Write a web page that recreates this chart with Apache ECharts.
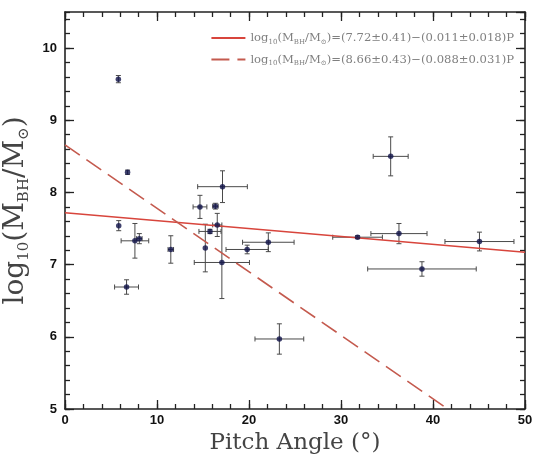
<!DOCTYPE html>
<html>
<head>
<meta charset="utf-8">
<script src="https://cdn.jsdelivr.net/npm/echarts@6/dist/echarts.min.js"></script>
<style>
html,body{margin:0;padding:0;background:#fff;}
#main{width:534px;height:457px;}
</style>
</head>
<body>
<div id="main"></div>
<script>
// pitch angle (deg), log10 black hole mass, and their errors
var pitch  = [5.8, 6.8, 5.84, 6.69, 7.6, 8.08, 11.5, 14.67, 16.35, 17.12, 16.55, 15.76, 15.25, 17.05, 19.8, 22.1, 23.3, 31.8, 35.4, 36.3, 38.8, 45.05];
var logM   = [9.57, 8.28, 7.54, 6.69, 7.33, 7.36, 7.21, 7.80, 7.81, 8.08, 7.55, 7.46, 7.23, 7.03, 7.21, 7.31, 5.97, 7.38, 8.50, 7.43, 6.94, 7.32];
var pitchErr = [0, 0, 0, 1.3, 1.5, 0.3, 0.3, 0.75, 0.3, 2.7, 0.5, 1.2, 0, 3.0, 2.3, 2.8, 2.65, 2.7, 1.9, 3.05, 5.9, 3.75];
var logMErr  = [0.05, 0.03, 0.07, 0.1, 0.24, 0.07, 0.19, 0.16, 0.04, 0.22, 0.16, 0.03, 0.33, 0.5, 0.06, 0.13, 0.21, 0.02, 0.27, 0.14, 0.1, 0.13];

// fit lines, end points
var fitAll  = [[0, 7.72], [50, 7.17]];
var fitDash = [[0, 8.66], [41.6, 5.0]];
var fitNames = ['fitA', 'fitB'];
var fitLabels = {
    fitA: '{t|log}{s|10}{t|(M}{s|BH}{t|/M}{s|⊙}{t|)=(7.72±0.41)−(0.011±0.018)P}',
    fitB: '{t|log}{s|10}{t|(M}{s|BH}{t|/M}{s|⊙}{t|)=(8.66±0.43)−(0.088±0.031)P}'
};

var xTicks = {min: 0, max: 50, interval: 10, minor: 2};
var yTicks = {min: 5, max: 10.5, interval: 1, minor: 0.2};

var pts = [];
for (var i = 0; i < pitch.length; i++) {
    pts.push([pitch[i], logM[i], pitchErr[i], logMErr[i]]);
}

function errBars(params, api) {
    var x = api.value(0), y = api.value(1), ex = api.value(2), ey = api.value(3);
    var cap = 2.5, kids = [];
    var st = {stroke: '#4a4a4a', lineWidth: 1};
    if (ey > 0) {
        var a = api.coord([x, y - ey]), b = api.coord([x, y + ey]);
        kids.push({type: 'line', shape: {x1: a[0], y1: a[1], x2: b[0], y2: b[1]}, style: st});
        kids.push({type: 'line', shape: {x1: a[0] - cap, y1: a[1], x2: a[0] + cap, y2: a[1]}, style: st});
        kids.push({type: 'line', shape: {x1: b[0] - cap, y1: b[1], x2: b[0] + cap, y2: b[1]}, style: st});
    }
    if (ex > 0) {
        var c = api.coord([x - ex, y]), d = api.coord([x + ex, y]);
        kids.push({type: 'line', shape: {x1: c[0], y1: c[1], x2: d[0], y2: d[1]}, style: st});
        kids.push({type: 'line', shape: {x1: c[0], y1: c[1] - cap, x2: c[0], y2: c[1] + cap}, style: st});
        kids.push({type: 'line', shape: {x1: d[0], y1: d[1] - cap, x2: d[0], y2: d[1] + cap}, style: st});
    }
    return {type: 'group', children: kids};
}

var lineSt = {color: '#222', width: 1.6};
var lblFont = {color: '#111', fontWeight: 'bold', fontSize: 13, fontFamily: 'Liberation Sans'};

// minor = true gives an extra axis that only carries the short ticks
function xAx(pos, labels, minor) {
    return {
        type: 'value', position: pos, min: xTicks.min, max: xTicks.max,
        interval: minor ? xTicks.minor : xTicks.interval,
        axisLine: {show: !minor, onZero: false, lineStyle: lineSt},
        axisTick: {show: true, inside: true, length: minor ? 5 : 9, lineStyle: {color: '#222', width: 1.3}},
        splitLine: {show: false},
        axisLabel: labels ? Object.assign({margin: 5}, lblFont) : {show: false},
        name: labels ? 'Pitch Angle (°)' : '',
        nameLocation: 'middle', nameGap: 23,
        nameTextStyle: {fontFamily: 'DejaVu Serif', fontSize: 23, color: '#444'}
    };
}
function yAx(pos, labels, minor) {
    var ax = {
        type: 'value', position: pos, min: yTicks.min, max: yTicks.max,
        interval: minor ? yTicks.minor : yTicks.interval,
        axisLine: {show: !minor, onZero: false, lineStyle: lineSt},
        axisTick: {show: true, inside: true, length: minor ? 5 : 9, lineStyle: {color: '#222', width: 1.3}},
        splitLine: {show: false},
        axisLabel: labels ? Object.assign({margin: 8, showMaxLabel: false}, lblFont) : {show: false}
    };
    if (labels) {
        ax.name = '{t|log}{s|10}{t|(M}{s|BH}{t|/M}{s|⊙}{t|)}';
        ax.nameLocation = 'middle';
        ax.nameGap = 24;
        ax.nameTextStyle = {
            rich: {
                t: {fontFamily: 'DejaVu Serif', fontSize: 28, color: '#444', lineHeight: 32, verticalAlign: 'middle'},
                s: {fontFamily: 'DejaVu Serif', fontSize: 15, color: '#444', lineHeight: 16, verticalAlign: 'bottom'}
            }
        };
    }
    return ax;
}

var option = {
    animation: false,
    backgroundColor: '#fff',
    grid: {left: 65, right: 9, top: 12, bottom: 48, containLabel: false, outerBoundsMode: 'none'},
    legend: {
        orient: 'vertical', right: 20, top: 32, padding: 0,
        itemWidth: 34, itemHeight: 15, itemGap: 8,
        data: fitNames,
        itemStyle: {opacity: 0},
        formatter: function(n){ return fitLabels[n]; },
        textStyle: {
            rich: {
                t: {fontFamily: 'DejaVu Serif', fontSize: 11.6, color: '#808080', lineHeight: 15, verticalAlign: 'middle'},
                s: {fontFamily: 'DejaVu Serif', fontSize: 7, color: '#808080', lineHeight: 8, verticalAlign: 'bottom'}
            }
        }
    },
    xAxis: [xAx('bottom', true, false), xAx('top', false, false), xAx('bottom', false, true), xAx('top', false, true)],
    yAxis: [yAx('left', true, false), yAx('right', false, false), yAx('left', false, true), yAx('right', false, true)],
    series: [
        {
            name: fitNames[0], type: 'line', data: fitAll, symbol: 'none', silent: true,
            lineStyle: {color: '#d8453c', width: 1.5}, itemStyle: {color: '#d8453c'}
        },
        {
            name: fitNames[1], type: 'line', data: fitDash, symbol: 'none', silent: true,
            lineStyle: {color: '#c45a4e', width: 1.6, type: [18, 8]}, itemStyle: {color: '#c45a4e'}
        },
        {
            type: 'custom', data: pts, renderItem: errBars, z: 3,
            encode: {x: 0, y: 1}
        },
        {
            type: 'scatter', data: pts, symbol: 'circle', symbolSize: 5.5, z: 4,
            itemStyle: {color: '#10134a'}
        }
    ]
};

echarts.init(document.getElementById('main')).setOption(option);
</script>
</body>
</html>
